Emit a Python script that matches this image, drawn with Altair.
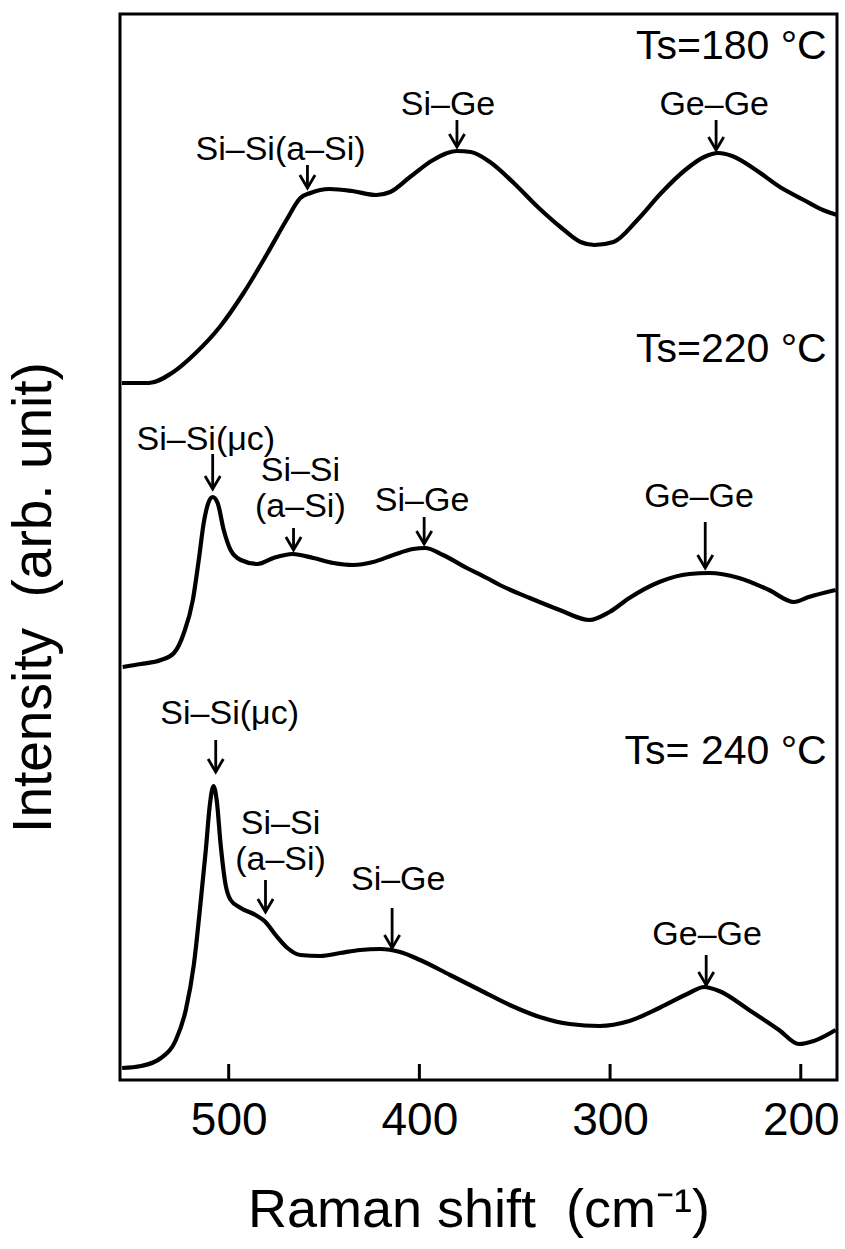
import altair as alt
import pandas as pd

# Raman spectra of Si-Ge films at three substrate temperatures.
# Wavenumber (cm^-1) and intensity (arb. unit); traces are stacked vertically.
wn_180 = [556.0, 541.8, 529.8, 517.3, 504.7, 492.2, 479.6, 469.7, 462.4, 457.1,
          447.2, 435.2, 422.6, 415.3, 404.9, 392.8, 380.3, 373.0, 363.0, 350.5,
          337.9, 325.4, 315.5, 308.2, 298.2, 285.7, 273.2, 260.6, 250.7, 243.3,
          236.0, 223.5, 210.9, 198.4, 188.4, 181.0]
int_180 = [697, 697, 707, 727, 753, 787, 827, 860, 882, 887,
           891, 889, 885, 888, 903, 920, 929, 928, 918, 897,
           873, 852, 838, 835, 838, 860, 887, 910, 923, 927,
           924, 910, 893, 880, 870, 865]

wn_220 = [555.6, 546.0, 535.5, 528.7, 523.5, 518.8, 515.7, 513.1, 510.5, 508.4,
          505.8, 502.6, 499.0, 493.7, 484.8, 476.5, 466.5, 455.6, 445.1, 434.7,
          424.2, 413.7, 403.3, 397.0, 387.6, 375.1, 364.6, 357.8, 342.1, 326.4,
          310.8, 300.3, 289.9, 274.2, 258.5, 248.0, 232.4, 216.7, 203.6, 195.8,
          181.7]
int_220 = [413, 416, 420, 427, 447, 480, 520, 557, 578, 583,
           577, 550, 530, 520, 516, 522, 526, 522, 517, 515,
           518, 525, 531, 532, 525, 512, 502, 495, 482, 470,
           460, 468, 482, 498, 506, 507, 502, 490, 478, 483,
           490]

wn_240 = [555.9, 546.0, 535.5, 527.7, 522.5, 518.3, 514.6, 512.0, 509.9, 508.0,
          506.3, 504.2, 501.6, 499.0, 493.7, 485.9, 480.7, 475.4, 469.2, 462.4,
          451.9, 441.5, 431.0, 420.5, 410.1, 399.6, 383.9, 368.3, 352.6, 336.9,
          321.2, 305.5, 289.9, 274.2, 258.5, 250.7, 242.8, 227.1, 211.4, 201.0,
          193.2, 181.7]
int_240 = [12, 14, 22, 40, 70, 115, 180, 230, 275, 294,
           280, 235, 195, 180, 172, 165, 158, 145, 132, 125,
           124, 127, 130, 131, 128, 120, 105, 90, 75, 63,
           56, 54, 59, 72, 87, 93, 89, 70, 50, 36,
           39, 50]

# Substrate-temperature captions
ts_text = ["Ts=180 °C", "Ts=220 °C", "Ts= 240 °C"]
ts_wn = [186.4, 186.4, 186.4]
ts_int = [1033, 730, 328]

# Peak assignments (two-line labels are split on "\n"; y is the first line)
peak_text = ["Si–Si(a–Si)", "Si–Ge", "Ge–Ge",
             "Si–Si(μc)", "Si–Si\n(a–Si)", "Si–Ge", "Ge–Ge",
             "Si–Si(μc)", "Si–Si\n(a–Si)", "Si–Ge", "Ge–Ge"]
peak_wn = [472.8, 385.0, 245.4,
           512.0, 462.4, 398.6, 253.3,
           499.5, 472.8, 411.1, 249.1]
peak_int = [930, 975, 975,
            640, 609, 579, 583,
            366, 256, 200, 145]

# Arrows pointing at each band: position, tail and tip intensity
arrow_wn = [458.7, 380.3, 244.4,
            508.4, 466.0, 397.5, 250.1,
            506.8, 480.7, 414.3, 249.6]
arrow_tail = [915, 960, 960,
              626, 552, 563, 558,
              340, 200, 172, 125]
arrow_tip = [892, 933, 930,
             591, 530, 536, 512,
             308, 168, 132, 95]

tick_values = [500, 400, 300, 200]

FONT = "Liberation Sans"
W, H = 717, 1066

spectra = pd.concat([
    pd.DataFrame({"w": wn_180, "I": int_180, "Ts": "180"}),
    pd.DataFrame({"w": wn_220, "I": int_220, "Ts": "220"}),
    pd.DataFrame({"w": wn_240, "I": int_240, "Ts": "240"}),
], ignore_index=True)

shafts = pd.DataFrame({"w": arrow_wn, "I": arrow_tail, "I2": arrow_tip})

# open chevron heads: two short strokes meeting at the tip
head_dx, head_dy = 4.0, 13
heads = []
for i, (w, tip) in enumerate(zip(arrow_wn, arrow_tip)):
    heads += [
        {"id": i, "k": 0, "w": w + head_dx, "I": tip + head_dy},
        {"id": i, "k": 1, "w": w, "I": tip},
        {"id": i, "k": 2, "w": w - head_dx, "I": tip + head_dy},
    ]
heads = pd.DataFrame(heads)

ts_df = pd.DataFrame({"w": ts_wn, "I": ts_int, "t": ts_text})
peaks_df = pd.DataFrame({"w": peak_wn, "I": peak_int, "t": peak_text})
ticks_df = pd.DataFrame({"w": tick_values})

x_scale = alt.Scale(domain=[181, 557], reverse=True, nice=False, zero=False)
y_scale = alt.Scale(domain=[0, H], nice=False, zero=False)

x_axis = alt.Axis(
    values=tick_values, ticks=False, domain=False, grid=False,
    labelFontSize=46, labelFont=FONT, labelColor="black", labelPadding=18,
    title="Raman\u00a0shift\u00a0\u00a0(cm⁻¹)", titleFont=FONT, titleFontSize=54,
    titleFontWeight="normal", titleColor="black", titlePadding=40,
)
y_axis = alt.Axis(
    labels=False, ticks=False, domain=False, grid=False,
    title="Intensity\u00a0\u00a0(arb.\u00a0unit)", titleFont=FONT, titleFontSize=55,
    titleFontWeight="normal", titleColor="black", titlePadding=58, titleY=583,
)


def xe():
    return alt.X("w:Q", scale=x_scale, axis=x_axis)


def ye():
    return alt.Y("I:Q", scale=y_scale, axis=y_axis)


curves = alt.Chart(spectra).mark_line(
    color="black", strokeWidth=4.2, interpolate="monotone"
).encode(x=xe(), y=ye(), detail="Ts:N")

inner_ticks = alt.Chart(ticks_df).mark_rule(color="black", strokeWidth=3).encode(
    x=xe(), y=alt.value(H), y2=alt.value(H - 16)
)

arrow_shafts = alt.Chart(shafts).mark_rule(color="black", strokeWidth=2.8).encode(
    x=xe(), y=ye(), y2="I2:Q"
)

arrow_heads = alt.Chart(heads).mark_line(color="black", strokeWidth=2.8).encode(
    x=xe(), y=ye(), detail="id:N", order="k:Q"
)

ts_labels = alt.Chart(ts_df).mark_text(
    font=FONT, fontSize=41, align="right", baseline="middle", color="black"
).encode(x=xe(), y=ye(), text="t:N")

peak_labels = alt.Chart(peaks_df).mark_text(
    font=FONT, fontSize=34, align="center", baseline="middle", color="black",
    lineBreak="\n", lineHeight=36,
).encode(x=xe(), y=ye(), text="t:N")

chart = alt.layer(
    curves, inner_ticks, arrow_shafts, arrow_heads, ts_labels, peak_labels
).properties(
    width=W, height=H,
    autosize=alt.AutoSizeParams(type="none"),
    padding={"left": 120, "top": 14, "right": 8, "bottom": 169},
    background="white",
).configure_view(stroke="black", strokeWidth=3)

chart.save("out.html", embed_options={"renderer": "svg", "actions": False})
